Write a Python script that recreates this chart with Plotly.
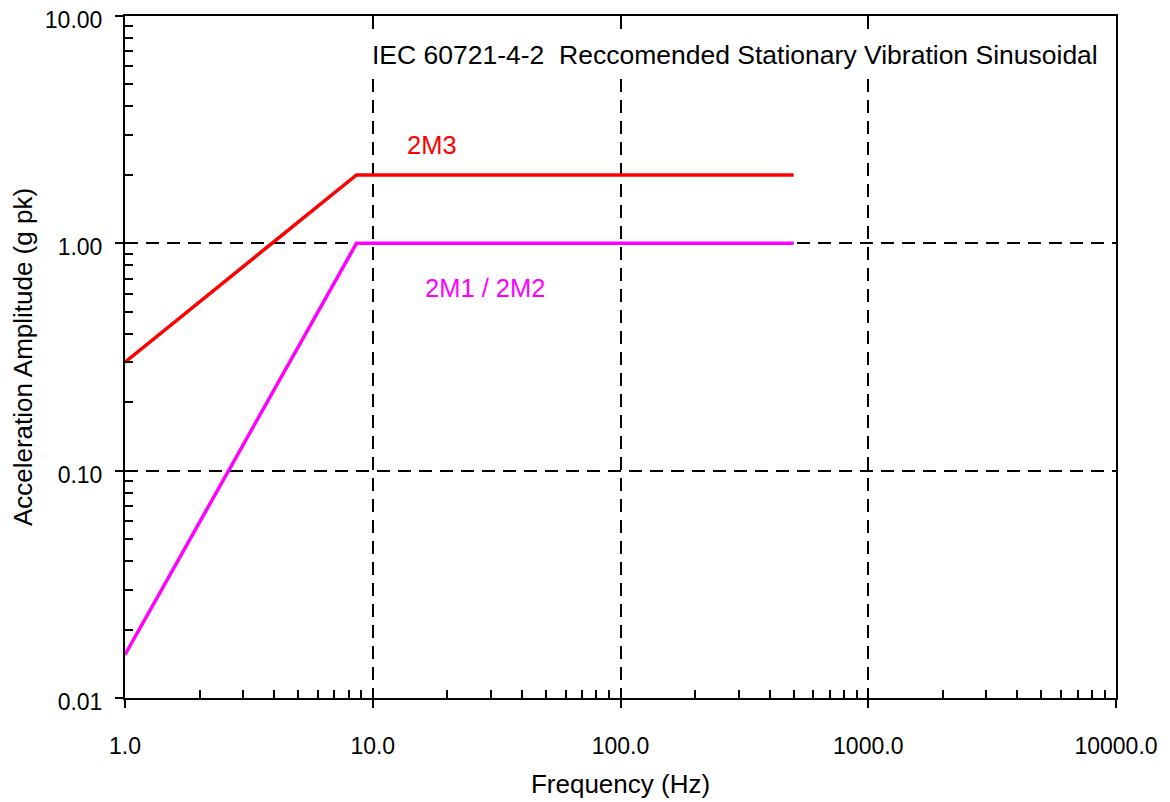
import plotly.graph_objects as go

# Data
freq_2m3 = [1.0, 8.6, 500.0]
acc_2m3 = [0.30, 2.0, 2.0]
freq_2m12 = [1.0, 8.6, 500.0]
acc_2m12 = [0.0155, 1.0, 1.0]

x_tickvals = [1, 10, 100, 1000, 10000]
x_ticktext = ["1.0", "10.0", "100.0", "1000.0", "10000.0"]
y_tickvals = [0.01, 0.1, 1, 10]
y_ticktext = ["0.01", "0.10", "1.00", "10.00"]

FONT = "Liberation Sans, Arial, sans-serif"

x_minor = [m * 10 ** k for k in range(0, 4) for m in range(2, 10)]
y_minor = [m * 10 ** k for k in range(-2, 1) for m in range(2, 10)]

fig = go.Figure()
fig.add_trace(go.Scatter(x=freq_2m3, y=acc_2m3, mode="lines",
                         line=dict(color="#FF0000", width=3.5), showlegend=False))
fig.add_trace(go.Scatter(x=freq_2m12, y=acc_2m12, mode="lines",
                         line=dict(color="#FF00FF", width=3.5), showlegend=False))

axis_common = dict(
    showline=True, linecolor="black", linewidth=2, mirror=True,
    ticks="outside", ticklen=8, tickwidth=2, tickcolor="black",
    showgrid=True, gridcolor="black", gridwidth=1.5, griddash="13px,8px",
    zeroline=False, automargin=False, ticklabeloverflow="allow",
    tickfont=dict(family=FONT, size=23, color="black"),
)

fig.update_xaxes(
    type="log", range=[0, 4],
    tickmode="array", tickvals=x_tickvals, ticktext=x_ticktext,
    ticklabelstandoff=18,
    minor=dict(tickmode="array", tickvals=x_minor, ticks="inside", ticklen=8,
               tickwidth=1.5, tickcolor="black", showgrid=False),
    title=dict(text="Frequency (Hz)", font=dict(family=FONT, size=26, color="black"),
               standoff=17),
    **axis_common,
)
fig.update_yaxes(
    type="log", range=[-2, 1],
    tickmode="array", tickvals=y_tickvals, ticktext=y_ticktext,
    ticklabelstandoff=8, ticklabelshift=4,
    minor=dict(tickmode="array", tickvals=y_minor, ticks="inside", ticklen=8,
               tickwidth=1.5, tickcolor="black", showgrid=False),
    title=dict(text="Acceleration Amplitude (g pk)",
               font=dict(family=FONT, size=26, color="black"), standoff=11),
    **axis_common,
)

fig.add_annotation(x=0.977, y=0.828, xref="x", yref="y", xanchor="left", yanchor="middle",
                   text="IEC 60721-4-2  Reccomended Stationary Vibration Sinusoidal",
                   showarrow=False, bgcolor="white", borderpad=4,
                   font=dict(family=FONT, size=26.5, color="black"))
fig.add_annotation(x=1.239, y=0.432, xref="x", yref="y", xanchor="center", yanchor="middle",
                   text="2M3", showarrow=False,
                   font=dict(family=FONT, size=25.5, color="#FF0000"))
fig.add_annotation(x=1.453, y=-0.197, xref="x", yref="y", xanchor="center", yanchor="middle",
                   text="2M1 / 2M2", showarrow=False,
                   font=dict(family=FONT, size=25.5, color="#FF00FF"))

# page body adds an 8px offset; compensate so the plot area lands at 125..1116 x 16..698
fig.update_layout(
    width=1162, height=794,
    margin=dict(l=117, r=54, t=8, b=104),
    plot_bgcolor="white", paper_bgcolor="white",
    showlegend=False,
)

fig.write_html("out.html")
